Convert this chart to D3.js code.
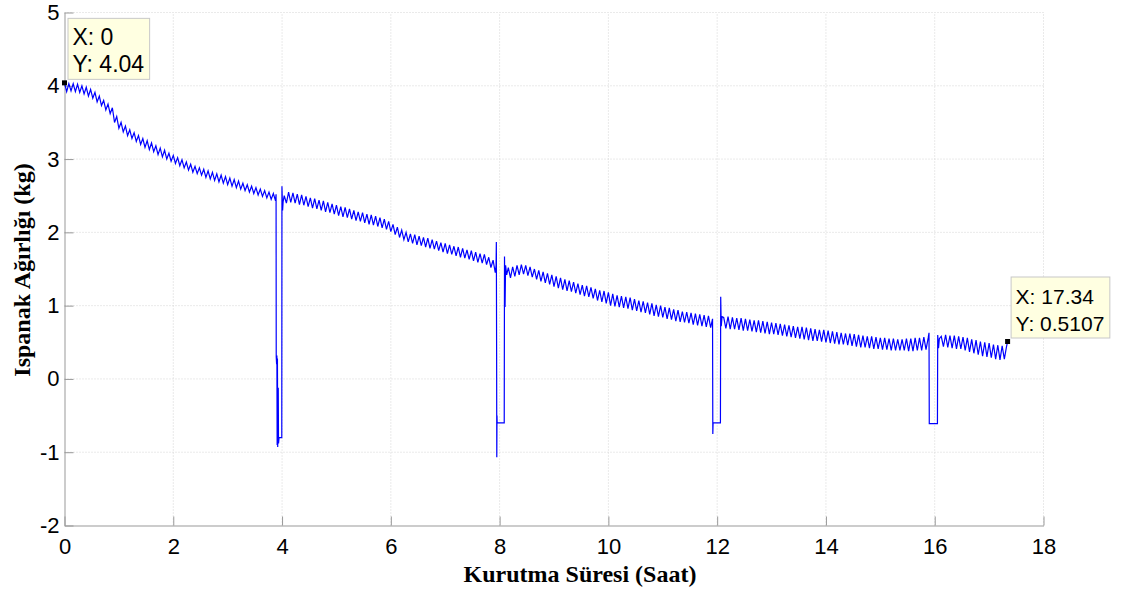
<!DOCTYPE html>
<html lang="tr">
<head>
<meta charset="UTF-8">
<title>Ispanak Kurutma</title>
<script src="https://d3js.org/d3.v7.min.js"></script>
<style>
  body{margin:0;background:#fff;}
  svg{display:block;}
  g.axis path.domain{stroke:#999;stroke-width:1px;}
  g.axis .tick line{stroke:#999;stroke-width:1px;}
  g.axis .tick text{font-family:Arial,"Liberation Sans",sans-serif;font-size:22px;fill:#000;}
  line.grid{stroke:#d4d4d4;stroke-width:1px;stroke-dasharray:1,2;}
  path.weight{fill:none;stroke:#0000ff;stroke-width:1.2px;}
  text.title{font-family:"Times New Roman","Liberation Serif",serif;font-weight:bold;font-size:24px;fill:#000;}
  rect.tip{fill:#ffffe1;stroke:#c8c8c8;stroke-width:1px;}
  text.tip{font-family:Arial,"Liberation Sans",sans-serif;fill:#000;}
</style>
</head>
<body>
<svg width="1136" height="589"></svg>
<script>
// ---- data (kg, sampled every 0.04 h) ----
let step = 0.04;
let xTicks = [0,2,4,6,8,10,12,14,16,18];
let yTicks = [-2,-1,0,1,2,3,4,5];

let seg1Start = 0;
let seg1 = [4.04,3.92,4.03,3.93,4.03,3.92,4.02,3.91,4.00,3.89,3.98,3.86,3.95,3.83,3.91,3.78,3.86,3.73,3.80,3.67,
  3.75,3.62,3.70,3.50,3.58,3.42,3.50,3.37,3.45,3.32,3.40,3.28,3.36,3.24,3.32,3.20,3.28,3.16,3.25,3.13,
  3.22,3.10,3.18,3.06,3.15,3.03,3.12,3.00,3.08,2.97,3.05,2.94,3.02,2.91,2.99,2.88,2.96,2.85,2.93,2.82,
  2.90,2.80,2.88,2.78,2.86,2.75,2.84,2.73,2.82,2.71,2.80,2.69,2.78,2.67,2.76,2.65,2.74,2.63,2.72,2.61,
  2.70,2.59,2.67,2.57,2.65,2.55,2.63,2.53,2.61,2.51,2.59,2.49,2.57,2.47,2.55,2.45,2.53,2.43];

let drop4 = [[3.89,2.52],[3.893,0.30],[3.90,0.20],[3.905,0.32],[3.91,-0.90],[3.915,0.28],[3.92,-0.93],
  [3.93,-0.12],[3.935,-0.88],[3.945,-0.80],[3.995,-0.80],[3.998,2.63],[4.01,2.30],[4.02,2.42]];

let seg2Start = 4.04;
let seg2 = [2.50,2.40,2.55,2.41,2.54,2.40,2.52,2.38,2.51,2.37,2.49,2.35,2.47,2.33,2.46,2.32,2.44,2.30,2.43,2.28,
  2.41,2.27,2.39,2.25,2.37,2.23,2.35,2.21,2.34,2.20,2.32,2.18,2.30,2.16,2.28,2.15,2.27,2.13,2.25,2.11,
  2.24,2.10,2.22,2.08,2.20,2.06,2.18,2.04,2.15,2.01,2.11,1.97,2.07,1.93,2.03,1.90,2.00,1.87,1.98,1.85,
  1.97,1.83,1.95,1.82,1.93,1.80,1.92,1.78,1.90,1.77,1.88,1.75,1.86,1.73,1.85,1.71,1.83,1.70,1.81,1.68,
  1.80,1.66,1.78,1.65,1.76,1.63,1.75,1.61,1.73,1.59,1.71,1.58,1.70,1.56,1.66,1.52,1.62,1.45];

let drop8 = [[7.935,1.55],[7.94,1.87],[7.945,0.35],[7.948,-1.07],[7.952,-0.50],[7.955,-0.60],
  [8.085,-0.60],[8.09,1.67],[8.10,0.98],[8.11,1.55],[8.13,1.42]];

let seg3Start = 8.16;
let seg3 = [1.52,1.38,1.53,1.40,1.55,1.42,1.56,1.43,1.55,1.41,1.53,1.39,1.50,1.36,1.48,1.33,1.46,1.31,1.44,1.29,
  1.42,1.26,1.40,1.24,1.38,1.22,1.36,1.20,1.34,1.19,1.32,1.17,1.30,1.15,1.28,1.13,1.27,1.12,1.25,1.10,
  1.23,1.07,1.21,1.05,1.20,1.03,1.18,1.00,1.16,0.99,1.14,0.98,1.13,0.97,1.12,0.96,1.11,0.94,1.09,0.93,
  1.07,0.91,1.06,0.90,1.04,0.88,1.03,0.86,1.01,0.85,1.00,0.84,0.98,0.82,0.97,0.81,0.95,0.79,0.94,0.78,
  0.92,0.77,0.91,0.76,0.90,0.74,0.89,0.73,0.88,0.72,0.87,0.71,0.86,0.70];

let drop12 = [[11.915,0.82],[11.92,-0.75],[11.925,-0.60],[12.06,-0.60],[12.065,1.12],[12.075,0.72],[12.09,0.85]];

let seg4Start = 12.12;
let seg4 = [0.84,0.69,0.85,0.68,0.84,0.68,0.83,0.67,0.83,0.66,0.82,0.66,0.81,0.65,0.80,0.64,0.80,0.63,0.79,0.62,
  0.78,0.61,0.77,0.61,0.76,0.60,0.75,0.59,0.74,0.58,0.73,0.57,0.72,0.56,0.71,0.55,0.71,0.54,0.70,0.53,
  0.69,0.52,0.68,0.52,0.67,0.51,0.67,0.50,0.66,0.49,0.65,0.48,0.64,0.47,0.63,0.47,0.62,0.46,0.62,0.45,
  0.61,0.44,0.60,0.43,0.59,0.43,0.58,0.42,0.58,0.41,0.57,0.41,0.56,0.40,0.56,0.40,0.55,0.39,0.55,0.39,
  0.54,0.39,0.54,0.39,0.55,0.38,0.55,0.38,0.56,0.39,0.56,0.39,0.57,0.40,0.56];

let drop16 = [[15.895,0.63],[15.90,-0.61],[16.05,-0.61],[16.055,0.60],[16.07,0.42],[16.085,0.55]];

let seg5Start = 16.12;
let seg5 = [0.58,0.44,0.60,0.43,0.59,0.42,0.59,0.41,0.58,0.41,0.57,0.39,0.56,0.37,0.54,0.35,0.53,0.33,0.51,0.31,
  0.50,0.30,0.49,0.29,0.47,0.27,0.46,0.26,0.45,0.27,0.44];

let lastPoint = [17.34, 0.5107];

// data tips
let tips = [
  {x: 0, y: 4.04, lines: ["X: 0", "Y: 4.04"], size: 23},
  {x: 17.34, y: 0.5107, lines: ["X: 17.34", "Y: 0.5107"], size: 21}
];

// ---- build the series ----
function seg(start, vals){ return vals.map((v,i) => [start + i*step, v]); }
let data = [].concat(
  seg(seg1Start, seg1), drop4,
  seg(seg2Start, seg2), drop8,
  seg(seg3Start, seg3), drop12,
  seg(seg4Start, seg4), drop16,
  seg(seg5Start, seg5), [lastPoint]
);

// ---- chart ----
let svg = d3.select('svg');
let xScale = d3.scaleLinear().domain([0,18]).range([64.5,1043.5]);
let yScale = d3.scaleLinear().domain([-2,5]).range([525.5,12.5]);

// grid
let grid = svg.append('g');
grid.selectAll('line.gx').data(xTicks.slice(1)).join('line')
  .attr('class','grid')
  .attr('x1', d => xScale(d)).attr('x2', d => xScale(d))
  .attr('y1', yScale(-2)).attr('y2', yScale(5));
grid.selectAll('line.gy').data(yTicks.slice(1)).join('line')
  .attr('class','grid')
  .attr('x1', xScale(0)).attr('x2', xScale(18))
  .attr('y1', d => yScale(d)).attr('y2', d => yScale(d));

// axes, ticks pointing inwards like matlab
svg.append('g').attr('class','axis')
  .attr('transform', `translate(0,${yScale(-2)})`)
  .call(d3.axisBottom(xScale).tickValues(xTicks).tickSize(-9).tickSizeOuter(0).tickPadding(13));
svg.append('g').attr('class','axis')
  .attr('transform', `translate(${xScale(0)},0)`)
  .call(d3.axisLeft(yScale).tickValues(yTicks).tickSize(-9).tickSizeOuter(0).tickPadding(5)
    .tickFormat(d => d < 0 ? '-' + Math.abs(d) : d));

// the line
let line = d3.line().x(d => xScale(d[0])).y(d => yScale(d[1]));
svg.append('path').datum(data).attr('class','weight').attr('d', line);

// axis titles
svg.append('text').attr('class','title')
  .attr('x', 580).attr('y', 582).attr('text-anchor','middle')
  .text('Kurutma Süresi (Saat)');
svg.append('text').attr('class','title')
  .attr('transform','translate(30,270) rotate(-90)').attr('text-anchor','middle')
  .text('Ispanak Ağırlığı (kg)');

// data tips
tips.forEach(function(t){
  let mx = xScale(t.x), my = yScale(t.y);
  let g = svg.append('g');
  let rect = g.append('rect').attr('class','tip');
  let txt = g.selectAll('text').data(t.lines).join('text')
    .attr('class','tip')
    .style('font-size', t.size + 'px')
    .attr('x', mx + 8)
    .attr('y', (d,i) => my - 38 + i*27)
    .text(d => d);
  let w = d3.max(txt.nodes(), n => n.getComputedTextLength());
  rect.attr('x', mx + 3.5).attr('y', my - 64.5)
    .attr('width', w + 10).attr('height', 61);
  g.append('rect').attr('x', mx - 2.5).attr('y', my - 2.5).attr('width',5).attr('height',5).attr('fill','#000');
});
</script>
</body>
</html>
